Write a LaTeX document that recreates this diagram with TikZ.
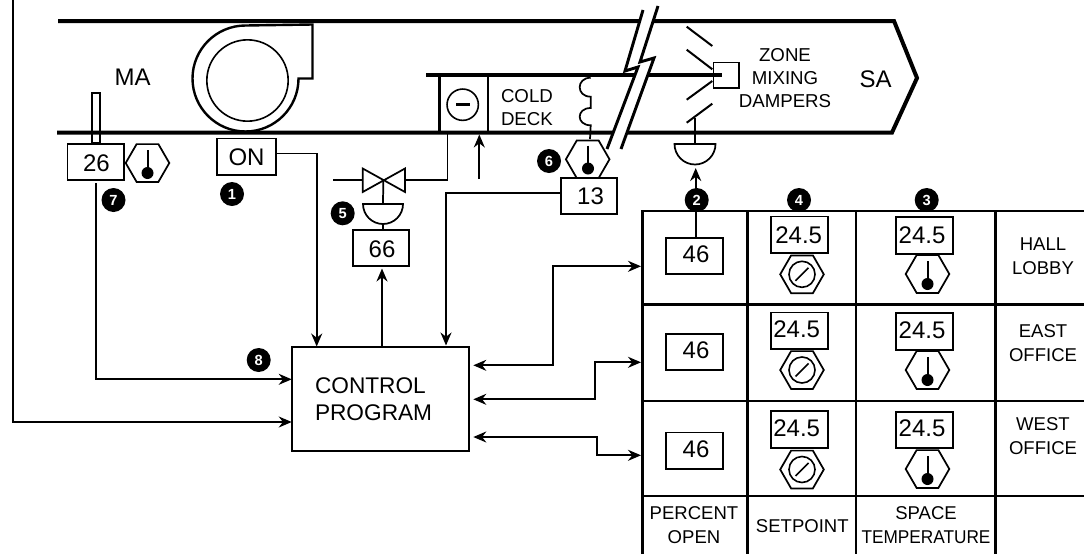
\documentclass[tikz,border=0pt]{standalone}
\usepackage{fontspec}
\setmainfont{Liberation Sans}
\usetikzlibrary{arrows.meta,shapes.geometric,calc}
\tikzset{
 fbig/.style={font=\fontsize{18pt}{20pt}\selectfont},
 fprog/.style={font=\fontsize{17pt}{20pt}\selectfont},
 fmid/.style={font=\fontsize{14pt}{20pt}\selectfont},
 fsm/.style={font=\fontsize{13.9pt}{20pt}\selectfont},
 txt/.style={inner sep=0pt,outer sep=0pt,anchor=base},
 box/.style={draw,line width=1.3pt,fill=white,inner sep=0pt,outer sep=0pt,minimum width=42.5pt,minimum height=27.5pt},
 hexa/.style={draw,line width=1.3pt,fill=white,regular polygon,regular polygon sides=6,inner sep=0pt,outer sep=0pt,minimum size=32.7pt},
 badge/.style={circle,fill=black,text=white,inner sep=0pt,outer sep=0pt,minimum size=18pt,font=\fontsize{11pt}{12pt}\selectfont\bfseries},
 bulb/.style={circle,fill=black,inner sep=0pt,outer sep=0pt,minimum size=9pt},
 duct/.style={line width=3pt,line join=miter},
 wall/.style={line width=1.8pt},
 conn/.style={line width=1.3pt},
 arr/.style={conn,-{Stealth[length=9.75pt,width=8.25pt]}},
 darr/.style={conn,{Stealth[length=9.75pt,width=8.25pt]}-{Stealth[length=9.75pt,width=8.25pt]}},
 thin1/.style={line width=1.5pt},
}
\newcommand{\bulbstem}[3]{% name, x, ytop; bulb below
  \draw[line width=1.5pt] (#2,#3) -- (#2,#3+23);
  \node[bulb] (#1) at (#2,#3+23) {};
}
\newcommand{\domeat}[3]{% x, y, radius px
  \draw[line width=1.3pt,fill=white] (#1-#3,#2) arc[start angle=180,end angle=360,radius=#3*0.75pt] -- cycle;
}
\newcommand{\setp}[3]{% name,x,y
  \node[hexa] (#1) at (#2,#3) {};
  \node[circle,draw,line width=1.2pt,inner sep=0pt,minimum size=19.5pt] (#1c) at (#2,#3) {};
  \draw[line width=1.2pt] ($(#1c)+(-6.5,6.5)$) -- ($(#1c)+(6.5,-6.5)$);
}
\begin{document}
\begin{tikzpicture}[x=0.75pt,y=-0.75pt]
\useasboundingbox (0,0) rectangle (1084,554);
% air handling unit
\draw[duct] (58,21) -- (894,21) -- (917,78) -- (892,132.5) -- (57,132.5);
\draw[duct] (426,75) -- (722,75);
% fan
\draw[line width=1.8pt] (298.5,78.5) arc[start angle=0,end angle=-270,radius=39.75pt] -- (312.5,24.5) -- (312.5,78.5) -- cycle;
\node[circle,draw,line width=1.2pt,inner sep=0pt,minimum size=61pt] (fanwheel) at (247.5,80.5) {};
\node[txt,fbig] (ma) at (132.7,85) {MA};
\node[txt,fbig] (sa) at (875.7,87) {SA};
% cooling coil
\draw[wall] (439.3,75) -- (439.3,132);
\draw[wall] (487.7,75) -- (487.7,132);
\node[circle,draw,line width=1.2pt,inner sep=0pt,minimum size=23.5pt] (coil) at (462.7,104.7) {};
\draw[line width=2.2pt] (456.3,104.5) -- (470,104.5);
\node[txt,fmid,anchor=base west] (cold) at (501,102.7) {COLD};
\node[txt,fmid,anchor=base west] (deck) at (501,125.7) {DECK};
% averaging sensor
\draw[line width=1.3pt] (590.7,77.7) .. controls (576,77.7) and (576,96.7) .. (590.7,96.7) -- (590.7,108) .. controls (576,108) and (576,125.3) .. (590.7,125.3) -- (590,139);
% break
\fill[white] (643,10) -- (625,71) -- (638,67) -- (607,148) -- (621,148) -- (654,58) -- (640,62) -- (658,6) -- cycle;
\draw[line width=2.2pt] (643,10) -- (625,71) -- (638,67) -- (607,149);
\draw[line width=2.2pt] (658,6) -- (640,62) -- (654,58) -- (621,149);
% dampers
\draw[thin1] (686.7,26.7) -- (712.3,46);
\draw[thin1] (686.7,49.7) -- (712.3,69.3);
\draw[thin1] (686.7,99.7) -- (712.3,81);
\draw[thin1] (686.7,122.7) -- (712.3,103.7);
\node[draw,line width=1.2pt,inner sep=0pt,minimum width=19.2pt,minimum height=19pt] (damp) at (726.2,75.3) {};
\draw[duct] (650,75) -- (722,75);
\node[txt,fmid] (z1) at (785,61) {ZONE};
\node[txt,fmid] (z2) at (785,84) {MIXING};
\node[txt,fmid] (z3) at (785,107) {DAMPERS};
\coordinate (dstem) at (695,118);
\draw[line width=1.5pt] (dstem) -- (695,144);
\domeat{695}{144}{20.5}
% MA sensor
\node[draw,line width=1.2pt,inner sep=0pt,minimum width=6pt,minimum height=37.5pt] (tube) at (96,118) {};
\node[box] (b26) at (95.7,162) {};
\node[txt,fbig] (t26) at (96.5,171.5) {26};
\node[hexa] (h26) at (147.5,163) {};
\bulbstem{h26b}{147.5}{150}
% fan status
\node[box,minimum width=44.5pt] (on) at (246.3,156.8) {};
\node[txt,fbig] (ton) at (246.5,165) {ON};
% control
\node[draw,line width=1.3pt,inner sep=0pt,outer sep=0pt,minimum width=133pt,minimum height=78pt] (ctrl) at (380.4,399.2) {};
\node[txt,fprog,anchor=base west] (c1) at (315,393) {CONTROL};
\node[txt,fprog,anchor=base west] (c2) at (315,420.7) {PROGRAM};
% valve
\coordinate (vc) at (383.3,180);
\coordinate (vin) at (333,180);
\draw[line width=1.3pt] (362.7,168.5) -- (405,192) -- (405,168.5) -- (362.7,192) -- cycle;
\draw[conn] (vin) -- (362.7,180);
\coordinate (vout) at (405,180);
\draw[conn] (vout) -- (447.5,180) -- (447.5,133);
\draw[conn] (vc) -- (383,204);
\domeat{383}{204}{20}
\node[box] (b66) at (381,248) {};
\node[txt,fbig] (t66) at (382,257.5) {66};
\draw[conn] (383,224) -- (383,230);
% supply air sensor
\node[hexa] (h13) at (587.7,159.3) {};
\bulbstem{h13b}{588}{145.5}
\node[box] (b13) at (589,196) {};
\node[txt,fbig] (t13) at (590.5,204.5) {13};
% arrow to coil
\coordinate (cw) at (479.3,179);
\coordinate (cwtip) at (479.3,134.5);
\draw[arr] (cw) -- (cwtip);
% table
\draw[wall] (642.3,554) -- (642.3,210.7) -- (1084,210.7);
\foreach \x in {747.3,856,995.3} \draw[wall] (\x,210.7) -- (\x,554);
\foreach \y in {304.3,400.7,496} \draw[wall] (642.3,\y) -- (1084,\y);
% percent open
\node[box] (p1) at (694.3,256) {};
\node[box] (p2) at (694.3,352) {};
\node[box] (p3) at (694.3,450.8) {};
\node[txt,fbig] (tp1) at (696,262.7) {46};
\node[txt,fbig] (tp2) at (696,358.7) {46};
\node[txt,fbig] (tp3) at (696,457.7) {46};
% setpoint
\node[box] (s1) at (799.3,234.7) {};
\node[box] (s2) at (799.3,330.7) {};
\node[box] (s3) at (799.3,429.5) {};
\node[txt,fbig] (ts1) at (798.7,243.3) {24.5};
\node[txt,fbig] (ts2) at (796.7,337.7) {24.5};
\node[txt,fbig] (ts3) at (796.7,436.7) {24.5};
\setp{sh1}{802}{274.3}
\setp{sh2}{802}{370}
\setp{sh3}{802}{469.5}
% space temperature
\node[hexa] (th1) at (927.5,274) {};
\node[hexa] (th2) at (927.5,370) {};
\node[hexa] (th3) at (927.5,469) {};
\bulbstem{tb1}{927.5}{261}
\bulbstem{tb2}{927.5}{357}
\bulbstem{tb3}{927.5}{456}
\node[box] (r1) at (924.3,235.3) {};
\node[box] (r2) at (924.3,331.3) {};
\node[box] (r3) at (924.3,430) {};
\node[txt,fbig] (tr1) at (922,243) {24.5};
\node[txt,fbig] (tr2) at (922,338.3) {24.5};
\node[txt,fbig] (tr3) at (922,436.7) {24.5};
% zone labels
\node[txt,fsm] (l1a) at (1043,250.3) {HALL};
\node[txt,fsm] (l1b) at (1043,274) {LOBBY};
\node[txt,fsm] (l2a) at (1043,337) {EAST};
\node[txt,fsm] (l2b) at (1043,361) {OFFICE};
\node[txt,fsm] (l3a) at (1043,430) {WEST};
\node[txt,fsm] (l3b) at (1043,454) {OFFICE};
\node[txt,fsm] (f1a) at (694,519.3) {PERCENT};
\node[txt,fsm] (f1b) at (694,543) {OPEN};
\node[txt,fsm] (f2) at (802.3,532) {SETPOINT};
\node[txt,fsm] (f3a) at (926,519.3) {SPACE};
\node[txt,fsm] (f3b) at (926,543) {\scalebox{0.93}[1]{TEMPERATURE}};
% connectors
\coordinate (oat) at (13,0);
\draw[arr] (oat) -- (13,422) -- (ctrl.west |- 0,422);
\draw[arr] (96.3,183) -- (96.3,379.3) -- (ctrl.west |- 0,379.3);
\draw[arr] (on.east |- 0,153.5) -- (316.7,153.5) -- (316.7,346.5);
\draw[arr] (b13.west |- 0,193.3) -- (446,193.3) -- (446,345.5);
\draw[arr] (382,347) -- (382,268.5);
\draw[arr] (695.7,237.7) -- (695.7,168);
\draw[darr] (473.3,365.3) -- (552.7,365.3) -- (552.7,266.3) -- (641,266.3);
\draw[darr] (473.3,399.3) -- (595.3,399.3) -- (595.3,362.3) -- (641,362.3);
\draw[darr] (473.3,437) -- (597.3,437) -- (597.3,455.3) -- (641,455.3);
% badges
\node[badge] (n1) at (232,194) {1};
\node[badge] (n2) at (696.7,200) {2};
\node[badge] (n3) at (926.7,200) {3};
\node[badge] (n4) at (799,200) {4};
\node[badge] (n5) at (342.7,213.3) {5};
\node[badge] (n6) at (549,161) {6};
\node[badge] (n7) at (113.5,200) {7};
\node[badge] (n8) at (258.7,360) {8};
\end{tikzpicture}
\end{document}
